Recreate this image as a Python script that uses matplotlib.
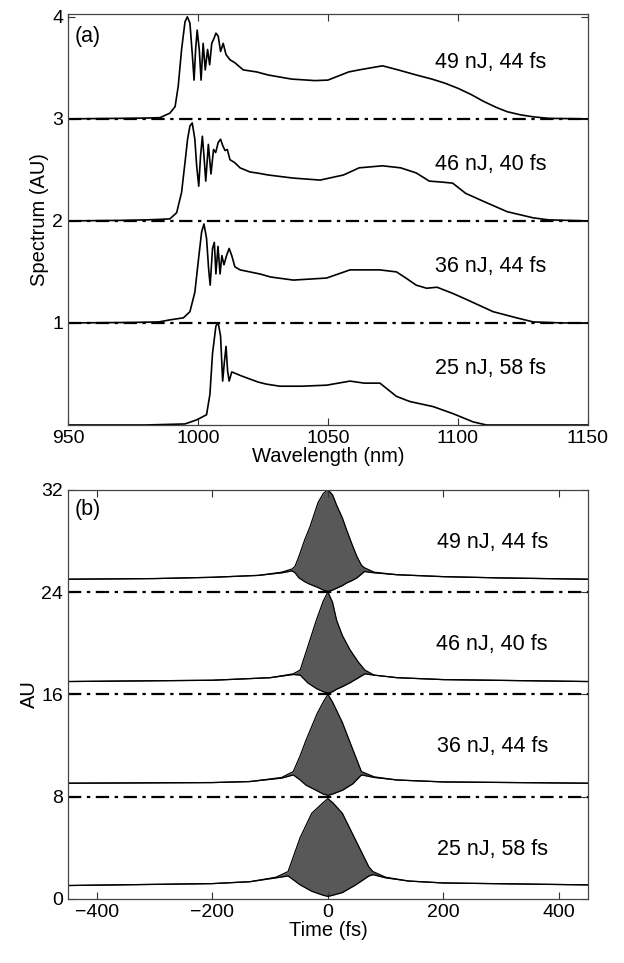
import matplotlib.pyplot as plt
import numpy as np

plt.rcParams['font.family'] = ['Liberation Sans', 'DejaVu Sans']

# ---- panel (a): spectra, values relative to their offset ----
labels = ['49 nJ, 44 fs', '46 nJ, 40 fs', '36 nJ, 44 fs', '25 nJ, 58 fs']
spec_offsets = [3, 2, 1, 0]

wl_49 = [950, 970, 980, 985.4, 989.2, 991.2, 992.4, 993.7, 995, 995.9, 996.9, 997.8, 998.5,
         999.1, 999.7, 1000.5, 1001.2, 1002, 1002.8, 1003.7, 1004.5, 1005.3, 1006.2, 1006.9,
         1007.8, 1008.7, 1009.7, 1010.8, 1012.3, 1014.2, 1017.4, 1022.6, 1027, 1036, 1045,
         1050, 1058, 1062, 1071, 1077, 1084, 1090, 1095, 1100, 1105, 1110, 1115, 1119, 1124,
         1129, 1135, 1150]
sp_49 = [0.0, 0.005, 0.008, 0.012, 0.056, 0.12, 0.32, 0.68, 0.95, 1.0, 0.94, 0.64, 0.38,
         0.68, 0.87, 0.68, 0.38, 0.74, 0.48, 0.68, 0.53, 0.74, 0.79, 0.84,
         0.81, 0.66, 0.74, 0.63, 0.58, 0.55, 0.48, 0.46, 0.43, 0.39, 0.375,
         0.38, 0.46, 0.48, 0.52, 0.48, 0.43, 0.39, 0.35, 0.30, 0.24, 0.17, 0.11, 0.07, 0.04,
         0.02, 0.005, 0.0]

wl_46 = [950, 970, 980, 985.4, 989.2, 991.8, 993.7, 995, 996, 996.9, 997.8, 998.8, 999.5,
         1000.3, 1001, 1001.7, 1002.3, 1003, 1004, 1005, 1006, 1006.8, 1007.8, 1008.7, 1009.5,
         1010.4, 1011.3, 1012.3, 1014.2, 1016.2, 1020, 1023.8, 1027, 1036.5, 1047, 1056, 1062,
         1071, 1078, 1084, 1089, 1094, 1098, 1103, 1110, 1119, 1129, 1135, 1150]
sp_46 = [0.0, 0.005, 0.01, 0.015, 0.02, 0.08, 0.28, 0.57, 0.80, 0.93, 0.96, 0.80, 0.54,
         0.34, 0.64, 0.83, 0.64, 0.39, 0.75, 0.46, 0.70, 0.67, 0.77, 0.80, 0.74,
         0.69, 0.70, 0.60, 0.57, 0.52, 0.48, 0.465, 0.45, 0.42, 0.40, 0.45, 0.52,
         0.54, 0.52, 0.47, 0.39, 0.38, 0.37, 0.27, 0.19, 0.09, 0.03, 0.01, 0.0]

wl_36 = [950, 975, 985, 989.2, 994.4, 996.9, 998.8, 1000.1, 1001.4, 1002.3, 1003.3, 1004.1,
         1004.7, 1005.6, 1006.3, 1006.9, 1007.7, 1008.5, 1009.2, 1010, 1011, 1012, 1013,
         1014.2, 1016.2, 1020, 1023.8, 1028, 1036.7, 1049.5, 1058.5, 1065, 1070, 1076.4, 1080,
         1084, 1088, 1092, 1098, 1103.3, 1113.6, 1122.6, 1129, 1140, 1150]
sp_36 = [0.0, 0.005, 0.01, 0.03, 0.05, 0.11, 0.30, 0.60, 0.89, 0.97, 0.83, 0.53,
         0.37, 0.73, 0.79, 0.48, 0.75, 0.48, 0.66, 0.57, 0.66, 0.73, 0.66,
         0.55, 0.52, 0.50, 0.48, 0.45, 0.42, 0.44, 0.52, 0.52, 0.52, 0.50, 0.44,
         0.37, 0.34, 0.35, 0.29, 0.23, 0.11, 0.05, 0.01, 0.0, 0.0]

wl_25 = [950, 980, 995, 999.5, 1003.3, 1004.6, 1005.6, 1006.9, 1007.8, 1008.7, 1009.5,
         1010.1, 1010.8, 1011.4, 1012, 1013, 1014.9, 1016.8, 1020, 1023.2, 1026.4, 1031.5,
         1040, 1049.5, 1058.5, 1064, 1070, 1076.4, 1081.5, 1090.5, 1098.2, 1105.9, 1111, 1150]
sp_25 = [0.0, 0.0, 0.01, 0.05, 0.10, 0.30, 0.70, 0.97, 1.0, 0.87, 0.43,
         0.60, 0.77, 0.53, 0.43, 0.52, 0.50, 0.48, 0.45, 0.42, 0.40, 0.38,
         0.38, 0.39, 0.43, 0.41, 0.41, 0.28, 0.23, 0.18, 0.11, 0.03, 0.0, 0.0]

# ---- panel (b): autocorrelation envelopes, relative to offset ----
ac_offsets = [24, 16, 8, 0]

t_49 = [-450, -300, -200, -120, -80, -62, -57, -50, -40, -31, -17, -8, 0, 8, 15, 25, 32, 42,
        50, 58, 63, 80, 120, 200, 300, 450]
up_49 = [1.0, 1.05, 1.15, 1.3, 1.55, 1.8, 2.0, 2.8, 4.1, 5.1, 7.0, 7.7, 8.0, 7.6, 6.8, 5.8,
         4.9, 3.7, 2.8, 2.1, 1.9, 1.55, 1.35, 1.2, 1.1, 1.0]
lo_49 = [1.0, 1.05, 1.15, 1.3, 1.5, 1.65, 1.5, 1.1, 0.8, 0.6, 0.35, 0.15, 0.05, 0.15, 0.3,
         0.5, 0.7, 0.9, 1.1, 1.4, 1.6, 1.5, 1.35, 1.2, 1.1, 1.0]

t_46 = [-450, -200, -100, -60, -48, -35, -20, -8, 0, 8, 15, 25, 38, 53, 64, 80, 120, 200, 450]
up_46 = [1.0, 1.1, 1.3, 1.6, 1.9, 3.7, 5.8, 7.3, 8.0, 7.2, 5.8, 4.6, 3.5, 2.5, 1.9, 1.5,
         1.3, 1.15, 1.0]
lo_46 = [1.0, 1.1, 1.3, 1.55, 1.5, 0.9, 0.45, 0.2, 0.1, 0.2, 0.4, 0.6, 0.9, 1.3, 1.6, 1.5,
         1.3, 1.15, 1.0]

t_36 = [-450, -200, -135, -80, -60, -48, -38, -18.6, -8, 0, 8, 25, 43, 58, 80, 120, 200, 450]
up_36 = [1.05, 1.1, 1.18, 1.5, 1.96, 3.2, 4.4, 6.5, 7.4, 8.0, 7.4, 5.8, 3.7, 1.96, 1.55,
         1.3, 1.15, 1.05]
lo_36 = [1.05, 1.1, 1.18, 1.45, 1.7, 1.3, 0.9, 0.45, 0.2, 0.1, 0.2, 0.5, 1.0, 1.7, 1.5,
         1.3, 1.15, 1.05]

t_25 = [-450, -200, -135, -90, -69, -48, -28, -9, 0, 9, 25, 48, 71, 78, 100, 140, 200, 450]
up_25 = [1.05, 1.2, 1.35, 1.7, 2.14, 4.8, 6.7, 7.5, 7.85, 7.5, 6.7, 4.6, 2.5, 2.14, 1.7,
         1.4, 1.25, 1.1]
lo_25 = [1.05, 1.2, 1.35, 1.65, 1.8, 1.1, 0.6, 0.3, 0.2, 0.3, 0.5, 1.1, 1.8, 1.9, 1.65,
         1.4, 1.25, 1.1]

wls = [wl_49, wl_46, wl_36, wl_25]
sps = [sp_49, sp_46, sp_36, sp_25]
ts = [t_49, t_46, t_36, t_25]
ups = [up_49, up_46, up_36, up_25]
los = [lo_49, lo_46, lo_36, lo_25]

fig = plt.figure(figsize=(6.24, 9.63), dpi=100)
ax1 = fig.add_axes([0.109, 0.5587, 0.833, 0.427])
ax2 = fig.add_axes([0.109, 0.0665, 0.833, 0.425])

dash = (0, (6, 2.5, 1.5, 2.5))

for wl, sp, off, lab in zip(wls, sps, spec_offsets, labels):
    ax1.plot(wl, np.array(sp) + off, color='black', lw=1.2)
    if off > 0:
        ax1.plot([950, 1150], [off, off], color='black', lw=1.6, linestyle=dash)
    ax1.text(1134, off + 0.55, lab, ha='right', va='center', fontsize=15.5)

for t, up, lo, off, lab in zip(ts, ups, los, ac_offsets, labels):
    up = np.array(up) + off
    lo = np.array(lo) + off
    ax2.fill_between(t, lo, up, color='#585858', lw=0)
    ax2.plot(t, up, color='black', lw=0.9)
    ax2.plot(t, lo, color='black', lw=0.9)
    if off > 0:
        ax2.plot([-450, 450], [off, off], color='black', lw=1.6, linestyle=dash)
    ax2.text(381, off + 3.9, lab, ha='right', va='center', fontsize=15.5)

ax1.set_xlim(950, 1150)
ax1.set_ylim(0, 4.03)
ax1.set_xticks([950, 1000, 1050, 1100, 1150])
ax1.set_yticks([1, 2, 3, 4])
ax1.set_xlabel('Wavelength (nm)', fontsize=14.5, labelpad=0)
ax1.set_ylabel('Spectrum (AU)', fontsize=14.5, labelpad=2)
ax1.text(0.013, 0.945, '(a)', transform=ax1.transAxes, fontsize=15.5, va='center')

ax2.set_xlim(-450, 450)
ax2.set_ylim(0, 32)
ax2.set_xticks([-400, -200, 0, 200, 400])
ax2.set_yticks([0, 8, 16, 24, 32])
ax2.set_xlabel('Time (fs)', fontsize=14.5, labelpad=0)
ax2.set_ylabel('AU', fontsize=14.5, labelpad=2)
ax2.text(0.013, 0.951, '(b)', transform=ax2.transAxes, fontsize=15.5, va='center')

for ax in (ax1, ax2):
    ax.tick_params(direction='in', top=True, right=True, length=5, width=0.8,
                   labelsize=14, colors='#333333', labelcolor='black')
    for s in ax.spines.values():
        s.set_color('#444444')
        s.set_linewidth(0.9)

fig.savefig('out.png', dpi=100)
